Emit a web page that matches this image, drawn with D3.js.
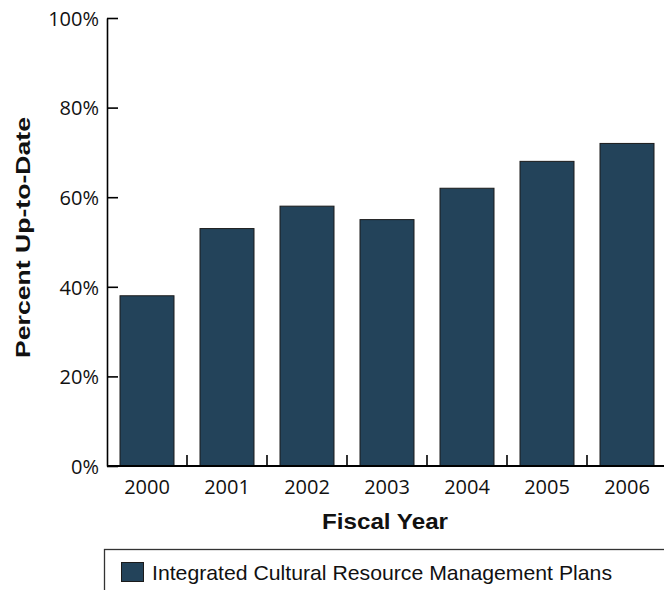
<!DOCTYPE html>
<html>
<head>
<meta charset="utf-8">
<script src="https://cdn.jsdelivr.net/npm/d3@7"></script>
<style>
  html, body { margin: 0; padding: 0; background: #fff; }
  svg { display: block; }
</style>
</head>
<body>
<svg id="chart" width="664" height="590"></svg>
<script>
const years = ["2000", "2001", "2002", "2003", "2004", "2005", "2006"];
const percentUpToDate = [38, 53, 58, 55, 62, 68, 72];
const yTicks = [0, 20, 40, 60, 80, 100];
const seriesName = "Integrated Cultural Resource Management Plans";
const yTitle = "Percent Up-to-Date";
const xTitle = "Fiscal Year";

(function () {
const svg = d3.select("#chart");
const plotLeft = 107, plotRight = 667, plotTop = 18, plotBottom = 466;
const barColor = "#23435a";

const x = d3.scaleBand().domain(years).range([plotLeft, plotRight])
  .paddingInner(0.325).paddingOuter(0.1625);
const y = d3.scaleLinear().domain([0, 100]).range([plotBottom, plotTop]);

// bars
svg.append("g").selectAll("rect").data(years).join("rect")
  .attr("x", d => x(d))
  .attr("y", (d, i) => y(percentUpToDate[i]))
  .attr("width", x.bandwidth())
  .attr("height", (d, i) => y(0) - y(percentUpToDate[i]))
  .attr("fill", barColor)
  .attr("stroke", "#1b1b1b")
  .attr("stroke-width", 1);

// y axis
const yAxis = svg.append("g").attr("transform", `translate(${plotLeft},0)`)
  .call(d3.axisLeft(y).tickValues(yTicks).tickFormat(d => d + "%")
    .tickSizeInner(-11).tickSizeOuter(0).tickPadding(8));
yAxis.select(".domain").attr("stroke", "#000").attr("stroke-width", 1.6);
yAxis.selectAll(".tick line").attr("stroke", "#000").attr("stroke-width", 1.6);
yAxis.selectAll(".tick text")
  .attr("font-family", "'Open Sans', sans-serif")
  .attr("font-size", 20).attr("fill", "#111").attr("dy", "0.36em");

// x axis baseline
svg.append("line").attr("x1", plotLeft).attr("x2", plotRight)
  .attr("y1", plotBottom).attr("y2", plotBottom)
  .attr("stroke", "#000").attr("stroke-width", 2);

// x boundary ticks between categories
const step = x.step();
const boundaries = years.map(d => x(d) - step * x.paddingInner() / 2).slice(1);
svg.append("g").selectAll("line").data(boundaries).join("line")
  .attr("x1", d => d).attr("x2", d => d)
  .attr("y1", plotBottom).attr("y2", plotBottom - 11)
  .attr("stroke", "#000").attr("stroke-width", 1.6);

// x labels
const xAxis = svg.append("g").attr("transform", `translate(0,${plotBottom})`)
  .call(d3.axisBottom(x).tickSize(0).tickPadding(14));
xAxis.select(".domain").remove();
xAxis.selectAll(".tick text")
  .attr("font-family", "'Open Sans', sans-serif")
  .attr("font-size", 20).attr("fill", "#111");

// axis titles
svg.append("text")
  .attr("transform", "translate(29.5,237.5) rotate(-90)")
  .attr("text-anchor", "middle")
  .attr("font-family", "'Liberation Sans', Arial, sans-serif")
  .attr("font-weight", "bold").attr("font-size", 20)
  .attr("textLength", 241).attr("lengthAdjust", "spacingAndGlyphs")
  .attr("fill", "#111")
  .text(yTitle);

svg.append("text")
  .attr("x", 385).attr("y", 529)
  .attr("text-anchor", "middle")
  .attr("font-family", "'Liberation Sans', Arial, sans-serif")
  .attr("font-weight", "bold").attr("font-size", 22)
  .attr("textLength", 126).attr("lengthAdjust", "spacingAndGlyphs")
  .attr("fill", "#111")
  .text(xTitle);

// legend
const lg = svg.append("g");
lg.append("rect").attr("x", 104.5).attr("y", 549.5)
  .attr("width", 600).attr("height", 100)
  .attr("fill", "#fff").attr("stroke", "#333").attr("stroke-width", 1.3);
lg.append("rect").attr("x", 121.5).attr("y", 562.5)
  .attr("width", 22).attr("height", 19)
  .attr("fill", barColor).attr("stroke", "#1b1b1b").attr("stroke-width", 1);
lg.append("text").attr("x", 152).attr("y", 580)
  .attr("font-family", "'Liberation Sans', Arial, sans-serif")
  .attr("font-size", 21)
  .attr("textLength", 460).attr("lengthAdjust", "spacingAndGlyphs")
  .attr("fill", "#111")
  .text(seriesName);
})();
</script>
</body>
</html>
